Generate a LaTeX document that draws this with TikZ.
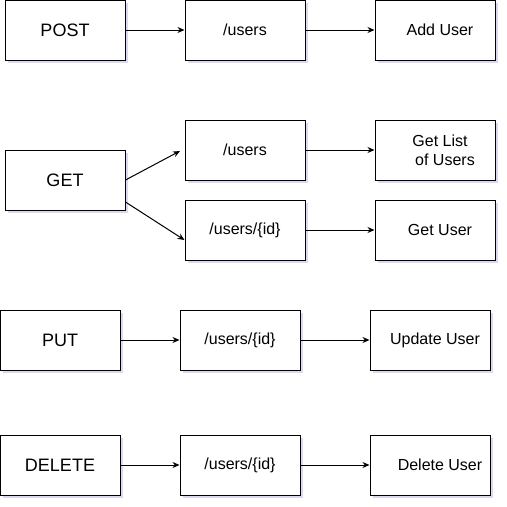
\documentclass[tikz,border=0pt]{standalone}
\usepackage{fontspec}
\setmainfont{Liberation Sans}
\usepackage{tikz}
\usetikzlibrary{arrows.meta,shadows}

\begin{document}
\begin{tikzpicture}[x=1pt,y=1pt]
\tikzstyle{every node}+=[inner sep=0pt]
\tikzstyle{box}=[draw=black, line width=1pt, fill=white, minimum width=120pt, minimum height=60pt, align=center,
  drop shadow={shadow xshift=2.5pt, shadow yshift=-2.5pt, opacity=0.25, fill=black!40!blue!60}]
\tikzstyle{verb}=[box, font=\fontsize{18}{21}\selectfont]
\tikzstyle{path}=[box, font=\fontsize{16}{19}\selectfont]
\tikzstyle{act}=[path, execute at begin node={\hspace*{#1}}]
\tikzstyle{link}=[draw=black, line width=1pt, -{Stealth[length=7pt,width=6pt]}]
\useasboundingbox (0,0) rectangle (507,-507);
% POST
\node [verb] (post) at (65,-30) {POST};
\node [path] (users1) at (245,-30) {/users};
\node [act=10pt] (adduser) at (435,-30) {Add User};
% GET
\node [verb] (get) at (65,-180) {GET};
\node [path] (users2) at (245,-150) {/users};
\node [act=10pt] (listusers) at (435,-150) {Get List\\\hspace*{10pt}of Users};
\node [path] (userid1) at (245,-230) {/users/\{id\}};
\node [act=10pt] (getuser) at (435,-230) {Get User};
\coordinate (gettip) at (180,-151);
% PUT
\node [verb] (put) at (60,-340) {PUT};
\node [path] (userid2) at (240,-340) {/users/\{id\}};
\node [act=10pt] (updateuser) at (430,-340) {Update User};
% DELETE
\node [verb] (delete) at (60,-465) {DELETE};
\node [path] (userid3) at (240,-465) {/users/\{id\}};
\node [act=20pt] (deleteuser) at (430,-465) {Delete User};
\draw [link] (post) -- (users1);
\draw [link] (users1) -- (adduser);
\draw [link] (get.east) -- (gettip);
\draw [link] (get.-20) -- ([yshift=-10pt]userid1.west);
\draw [link] (users2) -- (listusers);
\draw [link] (userid1) -- (getuser);
\draw [link] (put) -- (userid2);
\draw [link] (userid2) -- (updateuser);
\draw [link] (delete) -- (userid3);
\draw [link] (userid3) -- (deleteuser);
\end{tikzpicture}
\end{document}
